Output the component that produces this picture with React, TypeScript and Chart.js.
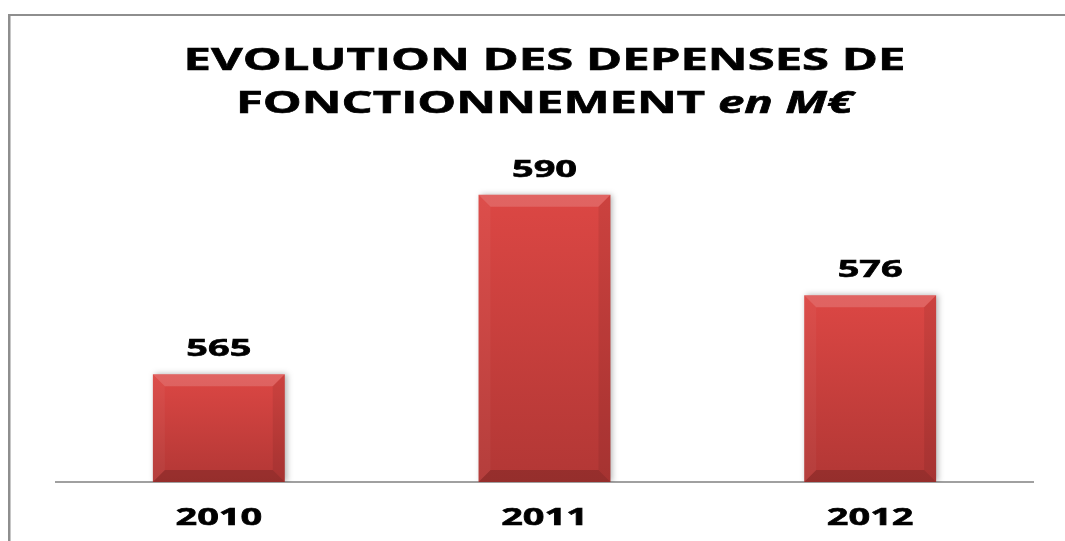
import React, { useEffect, useRef } from "react";
import { Chart, registerables } from "chart.js";

Chart.register(...registerables);

const categories = ["2010", "2011", "2012"];
const values = [565, 590, 576];
const yMin = 550;
const yMax = 600;
const titleLine1 = "EVOLUTION DES DEPENSES DE";
const titleLine2Main = "FONCTIONNEMENT ";
const titleLine2Unit = "en M€";

const FONT = "'Open Sans', 'DejaVu Sans', sans-serif";
const STRETCH = 1.58;

function drawStretched(ctx: CanvasRenderingContext2D, text: string, cx: number, y: number, font: string) {
  ctx.save();
  ctx.font = font;
  const w = ctx.measureText(text).width * STRETCH;
  ctx.translate(cx - w / 2, y);
  ctx.scale(STRETCH, 1);
  ctx.textAlign = "left";
  ctx.textBaseline = "alphabetic";
  ctx.fillStyle = "#000";
  ctx.strokeStyle = "#000";
  ctx.lineWidth = 0.6;
  ctx.fillText(text, 0, 0);
  ctx.strokeText(text, 0, 0);
  ctx.restore();
}

const decorPlugin = {
  id: "decor",
  beforeDraw(chart: any) {
    const ctx = chart.ctx as CanvasRenderingContext2D;
    ctx.save();
    ctx.fillStyle = "#8e8e8e";
    ctx.fillRect(8, 14, 1065 - 8, 2);
    ctx.fillRect(8, 14, 2.5, 541 - 14);
    ctx.restore();
  },
  beforeDatasetsDraw(chart: any) {
    const ctx = chart.ctx as CanvasRenderingContext2D;
    ctx.save();
    ctx.shadowColor = "rgba(0,0,0,0.3)";
    ctx.shadowBlur = 6;
    ctx.shadowOffsetX = 2;
    ctx.shadowOffsetY = 0;
  },
  afterDatasetsDraw(chart: any) {
    const ctx = chart.ctx as CanvasRenderingContext2D;
    ctx.restore();
    const meta = chart.getDatasetMeta(0);
    const d = 12;
    meta.data.forEach((el: any, i: number) => {
      const p = el.getProps(["x", "y", "base", "width"], true);
      const l = p.x - p.width / 2;
      const r = p.x + p.width / 2;
      const t = p.y;
      const b = p.base;
      const poly = (pts: number[][], fill: string) => {
        ctx.beginPath();
        ctx.moveTo(pts[0][0], pts[0][1]);
        for (let k = 1; k < pts.length; k++) ctx.lineTo(pts[k][0], pts[k][1]);
        ctx.closePath();
        ctx.fillStyle = fill;
        ctx.fill();
      };
      ctx.save();
      poly([[l, t], [r, t], [r - d, t + d], [l + d, t + d]], "rgba(255,255,255,0.16)");
      poly([[l, t], [l + d, t + d], [l + d, b - d], [l, b]], "rgba(255,255,255,0.04)");
      poly([[r, t], [r - d, t + d], [r - d, b - d], [r, b]], "rgba(0,0,0,0.07)");
      poly([[l, b], [l + d, b - d], [r - d, b - d], [r, b]], "rgba(0,0,0,0.16)");
      ctx.restore();
      drawStretched(ctx, String(values[i]), p.x, t - 18, `bold 24px ${FONT}`);
    });
    const xs = chart.scales.x;
    categories.forEach((c, i) => {
      drawStretched(ctx, c, xs.getPixelForTick(i), chart.chartArea.bottom + 43, `bold 24px ${FONT}`);
    });
    const cx = (chart.chartArea.left + chart.chartArea.right) / 2;
    drawStretched(ctx, titleLine1, cx, 70, `bold 31px ${FONT}`);
    ctx.save();
    const f1 = `bold 31px ${FONT}`;
    const f2 = `italic bold 30px ${FONT}`;
    ctx.font = f1;
    const w1 = ctx.measureText(titleLine2Main).width;
    ctx.font = f2;
    const w2 = ctx.measureText(titleLine2Unit).width;
    const total = (w1 + w2) * STRETCH;
    ctx.translate(cx - total / 2, 113);
    ctx.scale(STRETCH, 1);
    ctx.fillStyle = "#000";
    ctx.strokeStyle = "#000";
    ctx.lineWidth = 0.6;
    ctx.textAlign = "left";
    ctx.textBaseline = "alphabetic";
    ctx.font = f1;
    ctx.fillText(titleLine2Main, 0, 0);
    ctx.strokeText(titleLine2Main, 0, 0);
    ctx.font = f2;
    ctx.fillText(titleLine2Unit, w1, 0);
    ctx.strokeText(titleLine2Unit, w1, 0);
    ctx.restore();
  },
};

export default function App() {
  const ref = useRef<HTMLCanvasElement | null>(null);
  useEffect(() => {
    if (!ref.current) return;
    const chart = new Chart(ref.current, {
      type: "bar",
      data: {
        labels: categories,
        datasets: [
          {
            data: values,
            base: yMin,
            backgroundColor: (c: any) => {
              const chart = c.chart;
              if (!chart.chartArea || c.parsed == null) return "#c83c3c";
              const ys = chart.scales.y;
              const top = ys.getPixelForValue(c.parsed.y);
              const bottom = ys.getPixelForValue(yMin);
              const g = chart.ctx.createLinearGradient(0, top, 0, bottom);
              g.addColorStop(0, "#dc4744");
              g.addColorStop(1, "#b23735");
              return g;
            },
            borderWidth: 0,
            barPercentage: 0.405,
            categoryPercentage: 1,
          },
        ],
      },
      options: {
        responsive: false,
        animation: false,
        layout: { padding: { left: 56, right: 32, top: 123, bottom: 59 } },
        plugins: { legend: { display: false }, title: { display: false }, tooltip: { enabled: false } },
        scales: {
          x: {
            display: true,
            grid: { display: false, drawTicks: false },
            ticks: { display: false },
            border: { display: true, color: "#a0a0a0", width: 2 },
          },
          y: { display: false, min: yMin, max: yMax },
        },
      },
      plugins: [decorPlugin],
    });
    return () => chart.destroy();
  }, []);
  return (
    <div style={{ position: "absolute", left: 0, top: 0, width: 1065, height: 541, background: "#fff" }}>
      <canvas ref={ref} width={1065} height={541} />
    </div>
  );
}
